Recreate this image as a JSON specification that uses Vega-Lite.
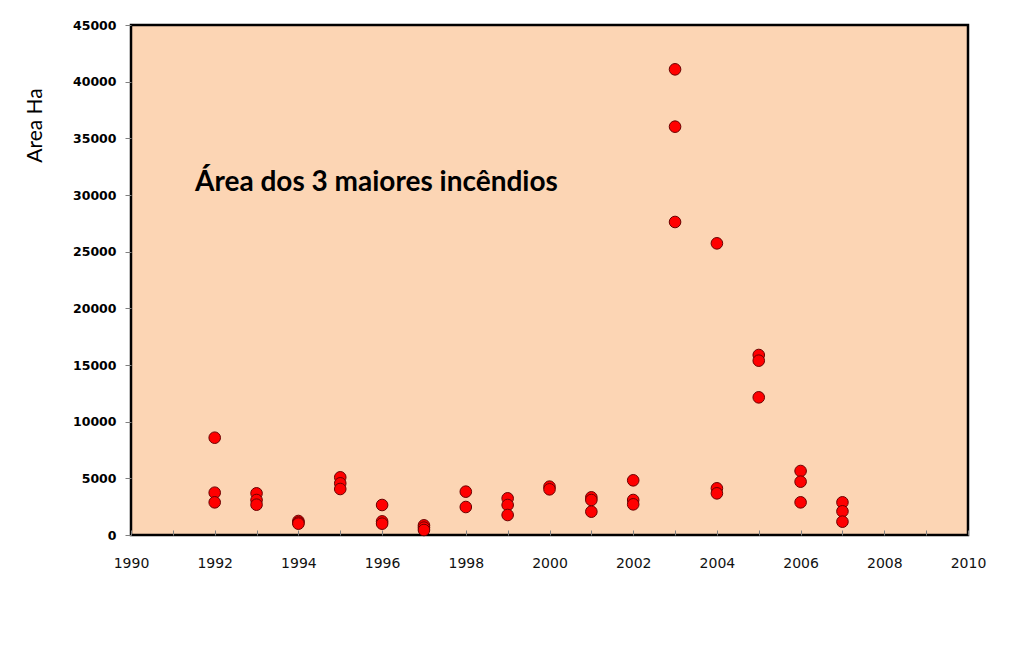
{
  "$schema": "https://vega.github.io/schema/vega-lite/v6.json",
  "width": 837,
  "height": 510,
  "autosize": {"type": "none"},
  "padding": {"left": 131, "top": 25, "right": 58, "bottom": 128},
  "background": "white",
  "config": {
    "view": {"fill": "#FCD5B4", "stroke": "black", "strokeWidth": 2.5},
    "axis": {"grid": false, "domain": false}
  },
  "data": {
    "values": [
      {"ano": 1992, "area": 8585}, {"ano": 1992, "area": 3733}, {"ano": 1992, "area": 2882},
      {"ano": 1993, "area": 3676}, {"ano": 1993, "area": 3088}, {"ano": 1993, "area": 2676},
      {"ano": 1994, "area": 1235}, {"ano": 1994, "area": 1100}, {"ano": 1994, "area": 1000},
      {"ano": 1995, "area": 5088}, {"ano": 1995, "area": 4559}, {"ano": 1995, "area": 4059},
      {"ano": 1996, "area": 2647}, {"ano": 1996, "area": 1200}, {"ano": 1996, "area": 1000},
      {"ano": 1997, "area": 850}, {"ano": 1997, "area": 650}, {"ano": 1997, "area": 441},
      {"ano": 1998, "area": 3824}, {"ano": 1998, "area": 2470},
      {"ano": 1999, "area": 3235}, {"ano": 1999, "area": 2647}, {"ano": 1999, "area": 1765},
      {"ano": 2000, "area": 4265}, {"ano": 2000, "area": 4030},
      {"ano": 2001, "area": 3323}, {"ano": 2001, "area": 3088}, {"ano": 2001, "area": 2059},
      {"ano": 2002, "area": 4824}, {"ano": 2002, "area": 3088}, {"ano": 2002, "area": 2706},
      {"ano": 2003, "area": 41088}, {"ano": 2003, "area": 36029}, {"ano": 2003, "area": 27618},
      {"ano": 2004, "area": 25735}, {"ano": 2004, "area": 4118}, {"ano": 2004, "area": 3676},
      {"ano": 2005, "area": 15882}, {"ano": 2005, "area": 15382}, {"ano": 2005, "area": 12147},
      {"ano": 2006, "area": 5647}, {"ano": 2006, "area": 4706}, {"ano": 2006, "area": 2882},
      {"ano": 2007, "area": 2882}, {"ano": 2007, "area": 2088}, {"ano": 2007, "area": 1176}
    ]
  },
  "layer": [
    {
      "mark": {"type": "point", "shape": "circle", "filled": true, "size": 135, "fill": "#FF0000", "stroke": "#6B0000", "strokeWidth": 1, "opacity": 1},
      "encoding": {
        "x": {
          "field": "ano", "type": "quantitative",
          "scale": {"domain": [1990, 2010], "nice": false, "zero": false},
          "axis": {
            "title": null,
            "values": [1990,1991,1992,1993,1994,1995,1996,1997,1998,1999,2000,2001,2002,2003,2004,2005,2006,2007,2008,2009,2010],
            "format": "d",
            "labelExpr": "datum.value % 2 == 0 ? datum.label : ''",
            "labelFont": "DejaVu Sans", "labelFontSize": 14, "labelColor": "#111111",
            "tickSize": -5, "tickColor": "#808080", "labelPadding": 26, "labelFlush": false
          }
        },
        "y": {
          "field": "area", "type": "quantitative",
          "scale": {"domain": [0, 45000], "nice": false},
          "axis": {
            "title": "Area Ha",
            "values": [0,5000,10000,15000,20000,25000,30000,35000,40000,45000],
            "format": "d",
            "labelFont": "DejaVu Sans", "labelFontSize": 12.5, "labelFontWeight": "bold", "labelColor": "black",
            "tickSize": 6, "tickColor": "#808080", "labelPadding": 9,
            "titleFont": "Lato", "titleFontSize": 21, "titleFontWeight": "normal", "titleColor": "black",
            "titleX": -86, "titleY": 100, "titleAngle": 270, "titleAlign": "center", "titleBaseline": "bottom"
          }
        }
      }
    },
    {
      "data": {"values": [{"ano": 1991.53, "area": 31100, "texto": "Área dos 3 maiores incêndios"}]},
      "mark": {"type": "text", "align": "left", "baseline": "middle", "font": "Lato", "fontSize": 28, "fontWeight": "bold", "color": "black"},
      "encoding": {
        "x": {"field": "ano", "type": "quantitative"},
        "y": {"field": "area", "type": "quantitative"},
        "text": {"field": "texto"}
      }
    }
  ]
}
